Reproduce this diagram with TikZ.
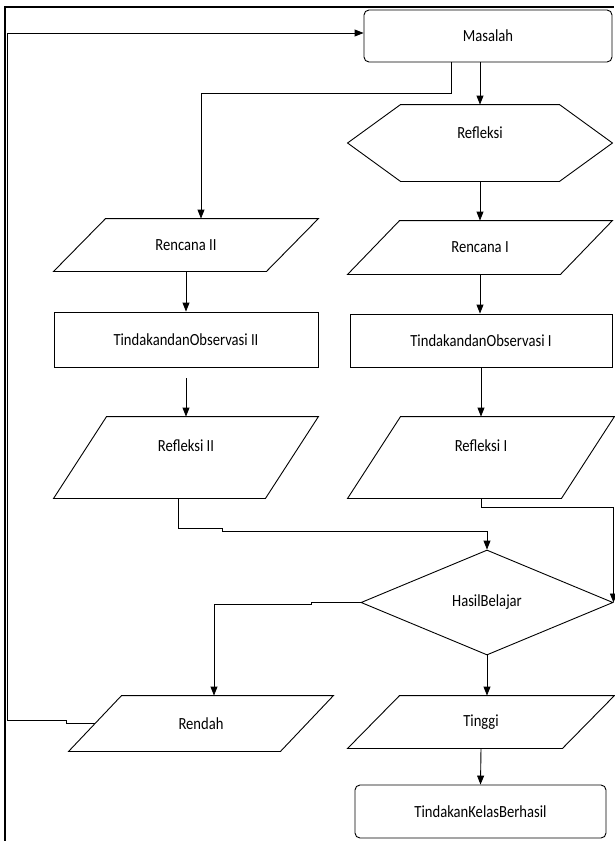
\documentclass[tikz,border=0pt]{standalone}
\usepackage{fontspec}
\setmainfont[FakeStretch=0.86]{Carlito}
\usetikzlibrary{shapes.geometric,arrows.meta}
\newcommand{\dataoutline}[2]{\draw ([xshift=#2]#1.north west) -- (#1.north east) -- ([xshift=-#2]#1.south east) -- (#1.south west) -- cycle;}
\newcommand{\prepoutline}[2]{\draw (#1.west) -- ([xshift=#2]#1.north west) -- ([xshift=-#2]#1.north east) -- (#1.east) -- ([xshift=-#2]#1.south east) -- ([xshift=#2]#1.south west) -- cycle;}

\begin{document}
\begin{tikzpicture}[x=1pt, y=-1pt, font=\fontsize{17}{20}\selectfont,
		line width=0.9pt,
		arr/.style={-{Triangle[length=9pt, width=7pt]}},
		roundbox/.style={draw, rectangle, rounded corners=5pt, inner sep=0pt},
		plainbox/.style={draw, rectangle, inner sep=0pt},
		openbox/.style={rectangle, inner sep=0pt},
		decide/.style={draw, diamond, inner sep=0pt}]
			\useasboundingbox (0, 0) rectangle (614, 841);
			\draw[line width=1.6pt] (5, 841) -- (5, 7) -- (614, 7);
			\node[roundbox, minimum width=248, minimum height=52] (masalah) at (488, 36) {Masalah};
			\node[openbox, minimum width=264, minimum height=76, label={[yshift=10pt]center:Refleksi}] (refleksi) at (480, 143) {};
			\node[openbox, minimum width=264, minimum height=52] (rencana2) at (186, 245) {Rencana II};
			\node[openbox, minimum width=264, minimum height=53] (rencana1) at (480, 247.5) {Rencana I};
			\node[plainbox, minimum width=264, minimum height=55] (tindakan2) at (186, 339.5) {TindakandanObservasi II};
			\node[plainbox, minimum width=262, minimum height=53] (tindakan1) at (481, 340.5) {TindakandanObservasi I};
			\node[openbox, minimum width=264, minimum height=81, label={[yshift=12pt]center:Refleksi II}] (refleksi2) at (186, 457.5) {};
			\node[openbox, minimum width=266, minimum height=81, label={[yshift=12pt]center:Refleksi I}] (refleksi1) at (481, 457.5) {};
			\node[decide, minimum width=252, minimum height=105] (hasil) at (487, 602.5) {HasilBelajar};
			\node[openbox, minimum width=264, minimum height=55] (rendah) at (201, 723.5) {Rendah};
			\node[openbox, minimum width=266, minimum height=52] (tinggi) at (481, 722) {Tinggi};
			\node[roundbox, minimum width=251, minimum height=53] (berhasil) at (480.5, 811.5) {TindakanKelasBerhasil};
			\prepoutline{refleksi}{53pt}
			\dataoutline{rencana2}{52pt}
			\dataoutline{rencana1}{52pt}
			\dataoutline{refleksi2}{53pt}
			\dataoutline{refleksi1}{53pt}
			\dataoutline{rendah}{53pt}
			\dataoutline{tinggi}{52pt}
			\draw[arr] (masalah.south -| refleksi.north) -- (refleksi.north);
			\draw[arr] ([xshift=-37pt]masalah.south) -- ++(0, 31) -| ([xshift=15pt]rencana2.north);
			\draw[arr] (refleksi.south) -- (rencana1.north);
			\draw[arr] (rencana2.south) -- (tindakan2.north);
			\draw[arr] (rencana1.south) -- (rencana1.south |- tindakan1.north);
			\draw[arr] ([yshift=-11pt]tindakan2.south) -- (refleksi2.north);
			\draw[arr] (tindakan1.south) -- (refleksi1.north);
			\draw[arr] ([xshift=-8pt]refleksi2.south) -- ++(0, 30) -- ++(44, 0) -- ++(0, 3) -| (hasil.north);
			\draw[arr] (refleksi1.south) -- ++(0, 9) -| (hasil.east);
			\draw[arr] (hasil.west) -- ++(-49, 0) -- ++(0, 2) -| ([xshift=13pt]rendah.north);
			\draw[arr] (hasil.south) -- (hasil.south |- tinggi.north);
			\draw[arr] (tinggi.south) -- (berhasil.north);
			\draw[arr] ([xshift=26.5pt]rendah.west) -- ++(-29, 0) -- ++(0, -3) -- ++(-58.5, 0) |- ([yshift=3pt]masalah.west);
		\end{tikzpicture}
\end{document}
